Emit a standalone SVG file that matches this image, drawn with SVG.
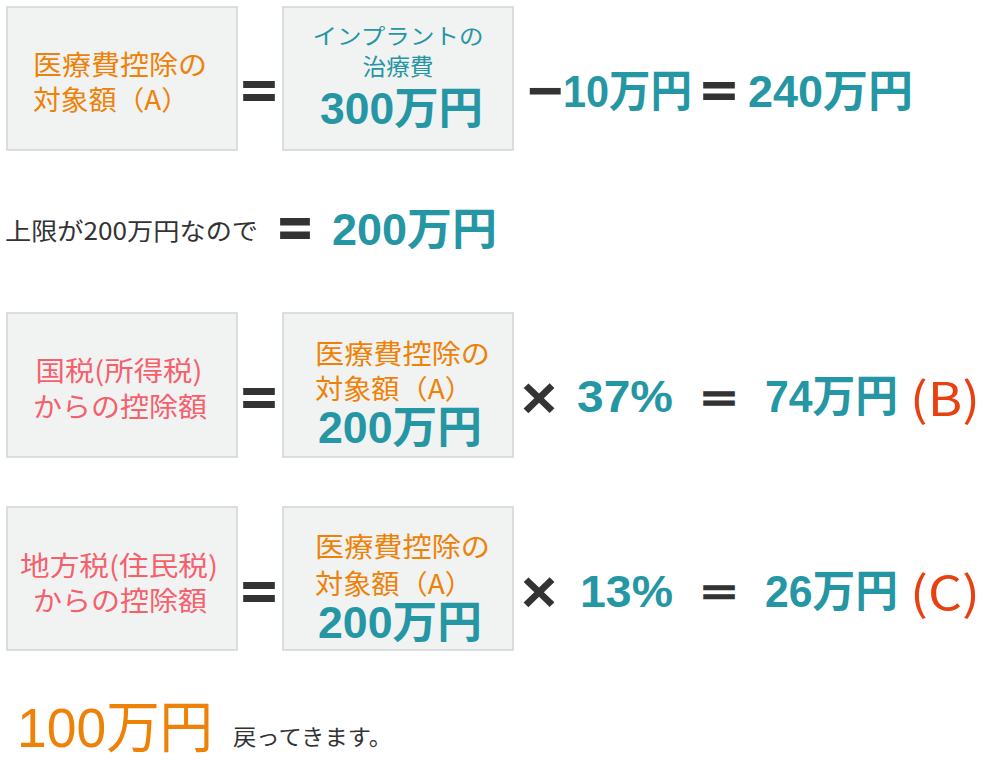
<svg xmlns="http://www.w3.org/2000/svg" width="1000" height="779" viewBox="0 0 1000 779">
<style>
.box{fill:#f1f2f2;stroke:#cfd5d8;stroke-width:1.5}
.jp{font-family:"Noto Sans CJK JP","Liberation Sans",sans-serif}
.num{font-family:"Liberation Sans","Noto Sans CJK JP",sans-serif;font-weight:bold}
.eq{font-family:"Liberation Sans",sans-serif;font-weight:bold;fill:#333;stroke:#333;stroke-width:3;font-size:72px}
.x{font-family:"Liberation Sans",sans-serif;font-weight:bold;fill:#333;font-size:60px}
.or{fill:#ee8208}
.tl{fill:#2596a4}
.pk{fill:#f4616c}
.rd{fill:#e8400f}
.dk{fill:#333}
.c{text-anchor:middle}
</style>
<rect width="1000" height="779" fill="#ffffff"/>

<g id="row1-left">
<rect class="box" x="7" y="7" width="230" height="143"/>
<text class="jp or c" x="120" y="75" font-size="27" textLength="174" lengthAdjust="spacingAndGlyphs">医療費控除の</text>
<text class="jp or" x="33" y="110" font-size="27" textLength="156" lengthAdjust="spacingAndGlyphs">対象額（A）</text>
</g>
<g id="row1-right">
<rect class="box" x="283" y="7" width="230" height="143"/>
<text class="jp tl c" x="398" y="44" font-size="22" textLength="171" lengthAdjust="spacingAndGlyphs">インプラントの</text>
<text class="jp tl c" x="398" y="75" font-size="23" textLength="71" lengthAdjust="spacingAndGlyphs">治療費</text>
<text class="num tl" x="320" y="124" font-size="44" font-weight="normal" textLength="163" lengthAdjust="spacingAndGlyphs">300万円</text>
</g>
<g id="row1-ops">
<text class="eq" transform="translate(242,107) scale(1,0.64)" textLength="34" lengthAdjust="spacingAndGlyphs">=</text>
<text class="x" x="527" y="111" textLength="36" lengthAdjust="spacingAndGlyphs">−</text>
<text class="num tl" x="563" y="107" font-size="44" textLength="129" lengthAdjust="spacingAndGlyphs">10万円</text>
<text class="eq" transform="translate(702,106) scale(1,0.6)" textLength="34" lengthAdjust="spacingAndGlyphs">=</text>
<text class="num tl" x="748" y="107" font-size="44" textLength="165" lengthAdjust="spacingAndGlyphs">240万円</text>
</g>

<g id="row2">
<text class="jp dk" x="5" y="240" font-size="24" textLength="253" lengthAdjust="spacingAndGlyphs">上限が200万円なので</text>
<text class="eq" transform="translate(279,246) scale(1,0.7)" textLength="32" lengthAdjust="spacingAndGlyphs">=</text>
<text class="num tl" x="332" y="245" font-size="44" textLength="165" lengthAdjust="spacingAndGlyphs">200万円</text>
</g>

<g id="row3-left">
<rect class="box" x="7" y="313" width="230" height="144"/>
<text class="jp pk c" x="119" y="381" font-size="27" textLength="167" lengthAdjust="spacingAndGlyphs">国税(所得税)</text>
<text class="jp pk c" x="120" y="417" font-size="27" textLength="174" lengthAdjust="spacingAndGlyphs">からの控除額</text>
</g>
<g id="row3-right">
<rect class="box" x="283" y="313" width="230" height="144"/>
<text class="jp or" x="315" y="364" font-size="27" textLength="175" lengthAdjust="spacingAndGlyphs">医療費控除の</text>
<text class="jp or" x="315" y="399" font-size="27" textLength="158" lengthAdjust="spacingAndGlyphs">対象額（A）</text>
<text class="num tl" x="318" y="443" font-size="44" textLength="164" lengthAdjust="spacingAndGlyphs">200万円</text>
</g>
<g id="row3-ops">
<text class="eq" transform="translate(242,414) scale(1,0.64)" textLength="34" lengthAdjust="spacingAndGlyphs">=</text>
<text class="x" x="521" y="418" textLength="36" lengthAdjust="spacingAndGlyphs">×</text>
<text class="num tl" x="577" y="412" font-size="44" textLength="96" lengthAdjust="spacingAndGlyphs">37%</text>
<text class="eq" transform="translate(702,411) scale(1,0.48)" textLength="34" lengthAdjust="spacingAndGlyphs">=</text>
<text class="num tl" x="765" y="412" font-size="44" textLength="133" lengthAdjust="spacingAndGlyphs">74万円</text>
<text class="jp rd" x="910" y="416" font-size="46" textLength="70" lengthAdjust="spacingAndGlyphs">(B)</text>
</g>

<g id="row4-left">
<rect class="box" x="7" y="507" width="230" height="143"/>
<text class="jp pk c" x="119" y="576" font-size="27" textLength="198" lengthAdjust="spacingAndGlyphs">地方税(住民税)</text>
<text class="jp pk c" x="120" y="611" font-size="27" textLength="174" lengthAdjust="spacingAndGlyphs">からの控除額</text>
</g>
<g id="row4-right">
<rect class="box" x="283" y="507" width="230" height="143"/>
<text class="jp or" x="315" y="557" font-size="27" textLength="175" lengthAdjust="spacingAndGlyphs">医療費控除の</text>
<text class="jp or" x="315" y="594" font-size="27" textLength="158" lengthAdjust="spacingAndGlyphs">対象額（A）</text>
<text class="num tl" x="318" y="638" font-size="44" textLength="164" lengthAdjust="spacingAndGlyphs">200万円</text>
</g>
<g id="row4-ops">
<text class="eq" transform="translate(242,608) scale(1,0.64)" textLength="34" lengthAdjust="spacingAndGlyphs">=</text>
<text class="x" x="521" y="612" textLength="36" lengthAdjust="spacingAndGlyphs">×</text>
<text class="num tl" x="580" y="607" font-size="44" textLength="93" lengthAdjust="spacingAndGlyphs">13%</text>
<text class="eq" transform="translate(702,604) scale(1,0.46)" textLength="34" lengthAdjust="spacingAndGlyphs">=</text>
<text class="num tl" x="765" y="607" font-size="44" textLength="133" lengthAdjust="spacingAndGlyphs">26万円</text>
<text class="jp rd" x="910" y="610" font-size="46" textLength="70" lengthAdjust="spacingAndGlyphs">(C)</text>
</g>

<g id="row5">
<text class="or" x="17" y="747" font-family="Liberation Sans, Noto Sans CJK JP, sans-serif" font-size="56" textLength="196" lengthAdjust="spacingAndGlyphs">100万円</text>
<text class="jp dk" x="233" y="745" font-size="22" textLength="159" lengthAdjust="spacingAndGlyphs">戻ってきます。</text>
</g>
</svg>
